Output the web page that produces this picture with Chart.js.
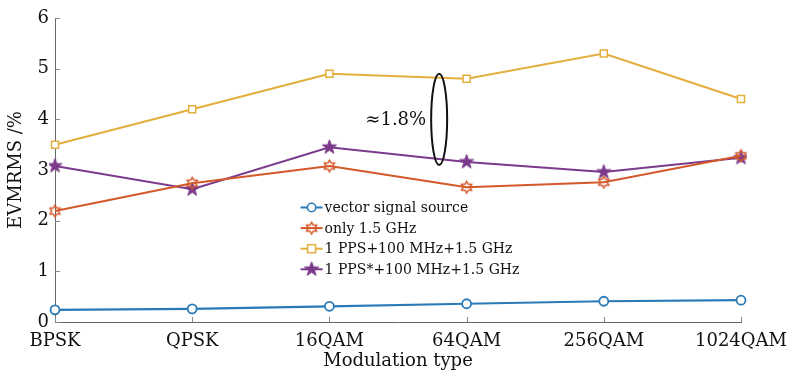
<!DOCTYPE html>
<html><head><meta charset="utf-8">
<script src="https://cdn.jsdelivr.net/npm/chart.js@4"></script>
<style>html,body{margin:0;padding:0;background:#fff;}#wrap{width:787px;height:372px;}</style>
</head><body><div id="wrap"><canvas id="c"></canvas></div>
<script>
const categories = ['BPSK','QPSK','16QAM','64QAM','256QAM','1024QAM'];
const vectorSource = [0.24,0.26,0.31,0.36,0.41,0.43];
const only15GHz = [2.19,2.74,3.08,2.66,2.76,3.28];
const pps100 = [3.5,4.2,4.9,4.8,5.3,4.4];
const ppsStar100 = [3.08,2.62,3.45,3.16,2.96,3.24];
const seriesNames = ['vector signal source','only 1.5 GHz','1 PPS+100 MHz+1.5 GHz','1 PPS*+100 MHz+1.5 GHz'];
const yTicks = [0,1,2,3,4,5,6];
const annotationText = '≈1.8%';

const FONT = "'DejaVu Serif', serif";
const C_BLUE='#2a7ab7', C_ORANGE='#d4582a', C_YELLOW='#e3ae3c', C_PURPLE='#7b3a8c';

function starCanvas(n, rO, rI, color, fill, lw){
  const size = Math.ceil(rO*2+lw*2+2);
  const c=document.createElement('canvas'); c.width=c.height=size;
  const ctx=c.getContext('2d'); const cx=size/2, cy=size/2;
  ctx.beginPath();
  for(let i=0;i<2*n;i++){const r=i%2?rI:rO; const a=-Math.PI/2+i*Math.PI/n; ctx.lineTo(cx+r*Math.cos(a),cy+r*Math.sin(a));}
  ctx.closePath();
  if(fill){ctx.fillStyle=color;ctx.fill();}
  ctx.strokeStyle=color;ctx.lineWidth=lw;ctx.lineJoin='miter';ctx.stroke();
  return c;
}
const hexImg = starCanvas(6,5.8,5.8/Math.sqrt(3),C_ORANGE,false,1.5);
const penImg = starCanvas(5,7.5,3,C_PURPLE,true,1);

const innerTicks = {
  id:'innerTicks',
  afterDraw(chart){
    const ctx=chart.ctx, x=chart.scales.x, y=chart.scales.y, a=chart.chartArea;
    ctx.save(); ctx.strokeStyle='#888'; ctx.lineWidth=1;
    y.ticks.forEach(t=>{const py=Math.round(y.getPixelForValue(t.value))+0.5; ctx.beginPath(); ctx.moveTo(a.left,py); ctx.lineTo(a.left+5,py); ctx.stroke();});
    categories.forEach((c,i)=>{const px=Math.round(x.getPixelForValue(i))+0.5; ctx.beginPath(); ctx.moveTo(px,a.bottom); ctx.lineTo(px,a.bottom-5); ctx.stroke();});
    // annotation ellipse
    const cx=x.getPixelForValue(2.8), top=y.getPixelForValue(4.9), bot=y.getPixelForValue(3.1);
    ctx.strokeStyle='#111'; ctx.lineWidth=2;
    ctx.beginPath(); ctx.ellipse(cx,(top+bot)/2,8,(bot-top)/2,0,0,Math.PI*2); ctx.stroke();
    ctx.fillStyle='#111'; ctx.font="18px "+FONT; ctx.textAlign='right'; ctx.textBaseline='middle';
    ctx.fillText(annotationText,cx-13,(top+bot)/2+1);
    // legend
    const lx=x.getPixelForValue(1.79), ly0=y.getPixelForValue(2.26), rowH=20.6;
    ctx.font="14px "+FONT; ctx.textAlign='left';
    chart.data.datasets.forEach((ds,i)=>{
      const ly=ly0+i*rowH;
      ctx.strokeStyle=ds.borderColor; ctx.lineWidth=2;
      ctx.beginPath(); ctx.moveTo(lx,ly); ctx.lineTo(lx+22,ly); ctx.stroke();
      const mx=lx+11;
      if(i===0){ctx.fillStyle='#fff';ctx.beginPath();ctx.arc(mx,ly,4.2,0,Math.PI*2);ctx.fill();ctx.lineWidth=1.6;ctx.stroke();}
      else if(i===2){ctx.fillStyle='#fff';ctx.fillRect(mx-4,ly-4,8,8);ctx.lineWidth=1.5;ctx.strokeRect(mx-4,ly-4,8,8);}
      else {const img=i===1?hexImg:penImg; ctx.drawImage(img,mx-img.width/2,ly-img.height/2);}
      ctx.fillStyle='#111'; ctx.fillText(ds.label,lx+24,ly+1);
    });
    ctx.restore();
  }
};

new Chart(document.getElementById('c'),{
  type:'line',
  data:{labels:categories,datasets:[
    {label:seriesNames[0],data:vectorSource,borderColor:C_BLUE,backgroundColor:'#fff',borderWidth:2.2,pointStyle:'circle',pointRadius:4.5,pointBorderWidth:1.8,tension:0},
    {label:seriesNames[1],data:only15GHz,borderColor:C_ORANGE,backgroundColor:C_ORANGE,borderWidth:2,pointStyle:hexImg,tension:0},
    {label:seriesNames[2],data:pps100,borderColor:C_YELLOW,backgroundColor:'#fff',borderWidth:2,pointStyle:'rect',pointRadius:5,pointBorderWidth:1.5,tension:0},
    {label:seriesNames[3],data:ppsStar100,borderColor:C_PURPLE,backgroundColor:C_PURPLE,borderWidth:2,pointStyle:penImg,tension:0}
  ]},
  options:{
    responsive:true,maintainAspectRatio:false,animation:false,
    layout:{padding:{top:18,right:46,left:0,bottom:0}},
    plugins:{legend:{display:false},tooltip:{enabled:false}},
    scales:{
      x:{type:'category',offset:false,
        grid:{display:true,drawOnChartArea:false,drawTicks:false},
        border:{display:true,color:'#666',width:1},
        ticks:{color:'#111',font:{family:FONT,size:18},padding:9,maxRotation:0,autoSkip:false},
        title:{display:true,text:'Modulation type',color:'#111',font:{family:FONT,size:18},padding:0},
        afterFit(s){s.height=50;s.paddingLeft=0;s.paddingRight=0;}
      },
      y:{min:0,max:6,
        afterBuildTicks(s){s.ticks=yTicks.map(v=>({value:v}));},
        grid:{display:true,drawOnChartArea:false,drawTicks:false},
        border:{display:true,color:'#666',width:1},
        ticks:{color:'#111',font:{family:FONT,size:18},padding:6},
        title:{display:true,text:'EVMRMS /%',color:'#111',font:{family:FONT,size:18},padding:{top:6,bottom:0}},
        afterFit(s){s.width=55;s.paddingTop=0;s.paddingBottom=0;}
      }
    }
  },
  plugins:[innerTicks]
});
</script></body></html>
